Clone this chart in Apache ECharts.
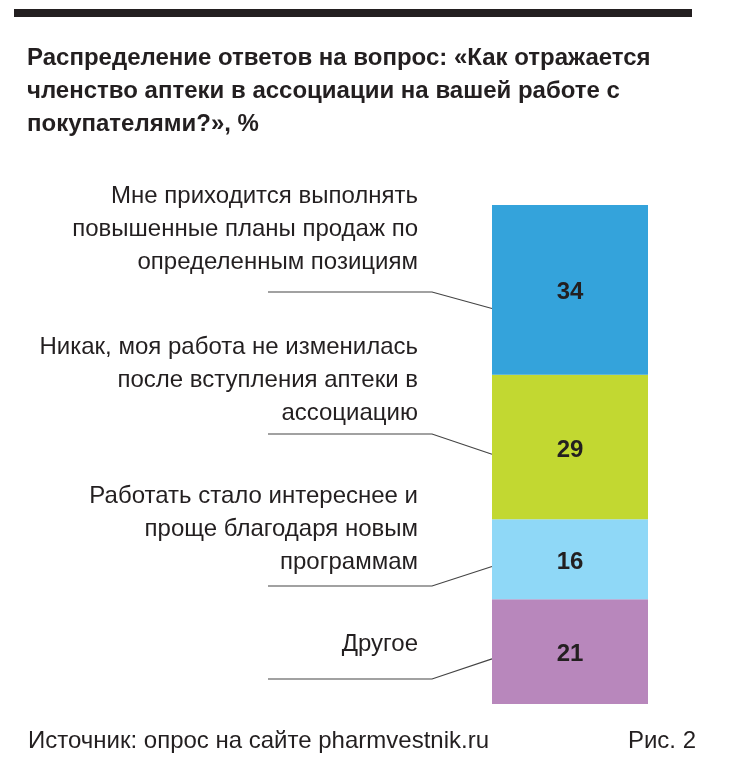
<!DOCTYPE html>
<html><head><meta charset="utf-8">
<script src="https://cdn.jsdelivr.net/npm/echarts@6/dist/echarts.min.js"></script>
<style>html,body{margin:0;padding:0;background:#fff}#c{width:729px;height:762px}</style>
</head><body><div id="c"></div>
<script>
// Data (bottom of stack first)
const categories = ['Другое', 'Работать стало интереснее и\nпроще благодаря новым\nпрограммам', 'Никак, моя работа не изменилась\nпосле вступления аптеки в\nассоциацию', 'Мне приходится выполнять\nповышенные планы продаж по\nопределенным позициям'];
const values = [21, 16, 29, 34];
const colors = ['#B887BC', '#8FD8F7', '#C2D831', '#34A3DB'];
const titleText = 'Распределение ответов на вопрос: «Как отражается\nчленство аптеки в ассоциации на вашей работе с\nпокупателями?», %';
const sourceText = 'Источник: опрос на сайте pharmvestnik.ru';
const figText = 'Рис. 2';

// layout (pixels / fractions, not data)
const labelBottomY = [644, 562, 413, 262];   // center of last text line
const hLineY = [679, 586, 434, 292];
const anchorFrac = [0.43, 0.41, 0.45, 0.39];

const chart = echarts.init(document.getElementById('c'), null, {renderer: 'canvas'});
const series = values.map((v, i) => ({
  type: 'bar', stack: 'all', name: categories[i], barWidth: '100%',
  data: [v],
  itemStyle: {color: colors[i]},
  label: {show: true, position: 'inside', offset: [0, 3], color: '#231f20', fontSize: 24, fontWeight: 'bold', fontFamily: 'Liberation Sans, Arial, sans-serif'},
  emphasis: {disabled: true}
}));
chart.setOption({
  animation: false,
  grid: {left: 492, width: 156, top: 205, bottom: 58},
  xAxis: {type: 'category', data: ['all'], show: false},
  yAxis: {type: 'value', min: 0, max: 100, show: false},
  series: series
});

const graphics = [
  {type: 'rect', shape: {x: 14, y: 9, width: 678, height: 8}, style: {fill: '#231f20'}},
  {type: 'text', x: 27, y: 91, style: {text: titleText, font: 'bold 24px "Liberation Sans", Arial, sans-serif', fill: '#231f20', lineHeight: 33, verticalAlign: 'middle'}},
  {type: 'text', x: 28, y: 741, style: {text: sourceText, font: '24px "Liberation Sans", Arial, sans-serif', fill: '#231f20', verticalAlign: 'middle'}},
  {type: 'text', x: 696, y: 741, style: {text: figText, font: '24px "Liberation Sans", Arial, sans-serif', fill: '#231f20', align: 'right', verticalAlign: 'middle'}}
];
let cum = 0;
values.forEach((v, i) => {
  const anchorVal = cum + anchorFrac[i] * v;
  cum += v;
  const p = chart.convertToPixel({gridIndex: 0}, ['all', anchorVal]);
  const barLeft = chart.convertToPixel({gridIndex: 0}, ['all', 0])[0] - 78;
  const lines = categories[i].split('\n');
  graphics.push({type: 'text', x: 418, y: labelBottomY[i] - (lines.length - 1) * 33 / 2, style: {
    text: categories[i], font: '24px "Liberation Sans", Arial, sans-serif', fill: '#231f20',
    align: 'right', verticalAlign: 'middle', lineHeight: 33}});
  graphics.push({type: 'polyline', shape: {points: [[268, hLineY[i]], [432, hLineY[i]], [barLeft, p[1]]]},
    style: {stroke: '#444', lineWidth: 1.2, fill: null}});
});
chart.setOption({graphic: graphics});
</script></body></html>
